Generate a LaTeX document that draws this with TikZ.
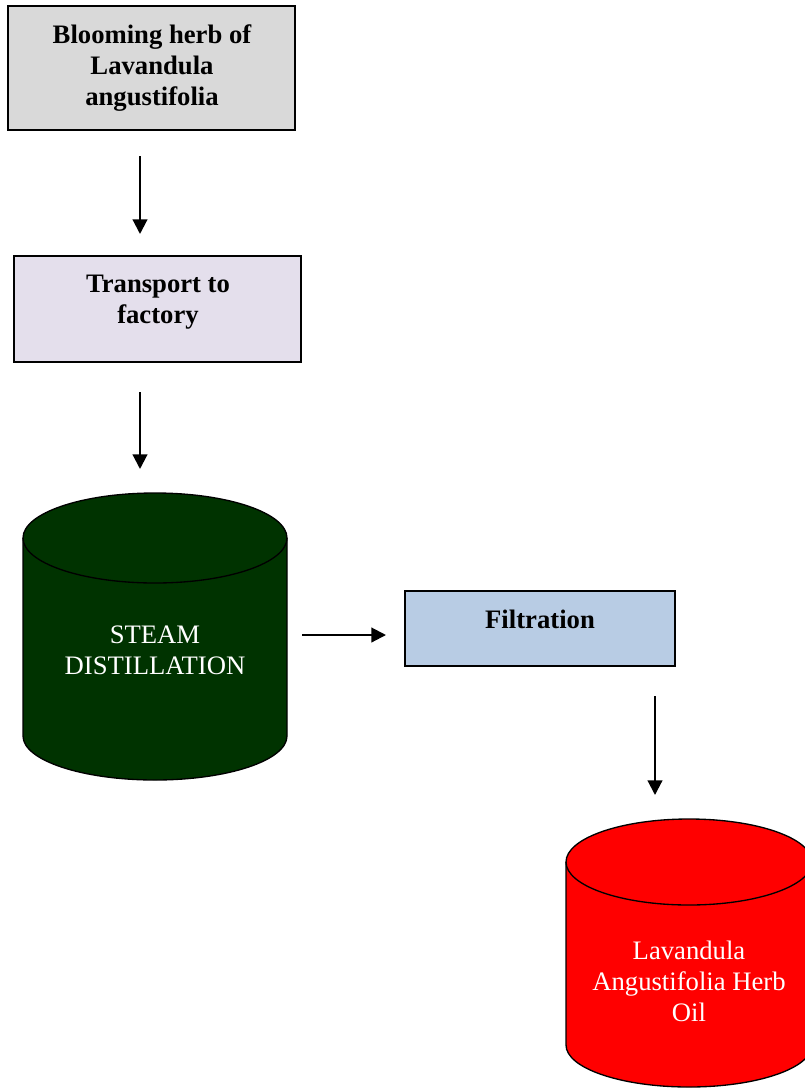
\documentclass[tikz,border=0pt]{standalone}
\usepackage{fontspec}
\setmainfont{Liberation Serif}
\usetikzlibrary{arrows.meta}
\definecolor{boxgray}{HTML}{D9D9D9}
\definecolor{boxlav}{HTML}{E4DFEC}
\definecolor{boxblue}{HTML}{B8CCE4}
\definecolor{cylgreen}{HTML}{003300}
\definecolor{cylred}{HTML}{FF0000}
\tikzset{
  procbox/.style={draw=black, line width=1.4pt},
  boxtext/.style={font=\fontsize{20}{23.25}\selectfont\bfseries, align=center, text=black, inner sep=0pt},
  cyltext/.style={font=\fontsize{20}{23.25}\selectfont, align=center, text=white, inner sep=0pt},
  cylline/.style={draw=black, line width=1pt},
  arr/.style={line width=1.6pt, -{Triangle[length=11pt, width=11pt]}},
}
\begin{document}
\begin{tikzpicture}[x=0.75pt, y=0.75pt]
\clip (0,0) rectangle (805,-1089);
\useasboundingbox (0,0) rectangle (805,-1089);

% Box 1
\draw[procbox, fill=boxgray] (8,-6) rectangle (295,-130);
\node[boxtext] (b1) at (152,-68) {Blooming herb of\\Lavandula\\angustifolia};
\coordinate (a1s) at (140,-156);
\coordinate (a1e) at (140,-234);
\draw[arr] (a1s) -- (a1e);

% Box 2
\draw[procbox, fill=boxlav] (14,-256) rectangle (301,-362);
\node[boxtext] (b2) at (158,-302) {Transport to\\factory};
\coordinate (a2s) at (140,-392);
\coordinate (a2e) at (140,-469);
\draw[arr] (a2s) -- (a2e);

% Cylinder 1 (green)
\path[cylline, fill=cylgreen] (23,-538) -- (23,-736) arc (180:360:132 and 44) -- (287,-538) arc (0:180:132 and 45) -- cycle;
\draw[cylline] (23,-538) arc (180:360:132 and 45);
\node[cyltext] (c1) at (155,-650) {STEAM\\DISTILLATION};
\coordinate (a3s) at (302,-635);
\coordinate (a3e) at (386,-635);
\draw[arr] (a3s) -- (a3e);

% Box 3
\draw[procbox, fill=boxblue] (405,-591) rectangle (675,-666);
\node[boxtext] (b3) at (540,-619) {Filtration};
\coordinate (a4s) at (655,-696);
\coordinate (a4e) at (655,-795);
\draw[arr] (a4s) -- (a4e);

% Cylinder 2 (red)
\path[cylline, fill=cylred] (566,-862) -- (566,-1045) arc (180:360:123 and 42) -- (812,-862) arc (0:180:123 and 43) -- cycle;
\draw[cylline] (566,-862) arc (180:360:123 and 43);
\node[cyltext] (c2) at (689,-981) {Lavandula\\Angustifolia Herb\\Oil};
\end{tikzpicture}
\end{document}
